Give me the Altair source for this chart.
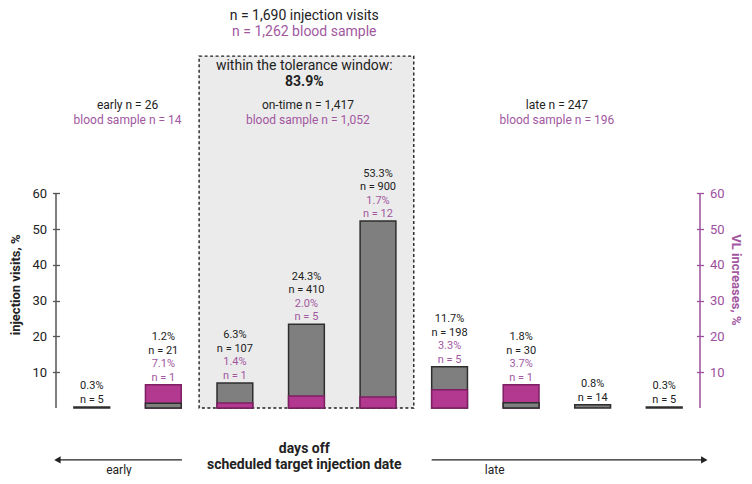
import json
import altair as alt
import pandas as pd

# ---------------- data ----------------
categories = ["< -14", "-14 to -8", "-7 to -1", "0", "1to7",
              "8 to 14", "15 to 28", "29 to 56", "> 56"]
visits_pct_label = ["0.3%", "1.2%", "6.3%", "24.3%", "53.3%", "11.7%", "1.8%", "0.8%", "0.3%"]
visits_n = [5, 21, 107, 410, 900, 198, 30, 14, 5]
vl_pct_label = [None, "7.1%", "1.4%", "2.0%", "1.7%", "3.3%", "3.7%", None, None]
vl_n = [None, 1, 1, 5, 12, 5, 1, None, None]
# bar heights as drawn in the picture (%)
visits_bar = [0.3, 1.3, 7.0, 23.4, 52.2, 11.5, 1.5, 0.9, 0.3]
vl_bar = [None, 6.5, 1.4, 3.35, 3.1, 5.1, 6.5, None, None]
tick_values = [10, 20, 30, 40, 50, 60]
on_time_cats = ["-7 to -1", "0", "1to7"]

# ---------------- style ----------------
FONT = "Roboto"
BLACK = "#222222"
PURPLE = "#a2579f"
AXIS_PURPLE = "#9c4f9c"
GRAY = "#7f7f7f"
GRAY_STROKE = "#2e2e2e"
MAGENTA = "#b3388f"
MAG_STROKE = "#7e1f64"

W, H = 644, 400
K = 3.58                      # pixels per percent unit
YMAX = H / K
XS = alt.Scale(domain=[0, len(categories)], nice=False, zero=False)
YS = alt.Scale(domain=[0, YMAX], nice=False, zero=False)

# ---------------- tables ----------------
bar_rows = []
for i, c in enumerate(categories):
    bar_rows.append(dict(cat=c, x0=i + 0.25, x1=i + 0.75, v=visits_bar[i], base=0, series="visits"))
    if vl_bar[i] is not None:
        bar_rows.append(dict(cat=c, x0=i + 0.25, x1=i + 0.75, v=vl_bar[i], base=0, series="vl"))
bars_df = pd.DataFrame(bar_rows).sort_values("v", ascending=False).reset_index(drop=True)

OFF, STEP = 7.0 / K, 13.5 / K
lab_rows = []
for i, c in enumerate(categories):
    top = max(visits_bar[i], vl_bar[i] or 0)
    lines = []
    if vl_bar[i] is not None:
        lines += [(f"n = {vl_n[i]}", PURPLE), (vl_pct_label[i], PURPLE)]
    lines += [(f"n = {visits_n[i]:,}", BLACK), (visits_pct_label[i], BLACK)]
    for k, (t, col) in enumerate(lines):
        lab_rows.append(dict(x=i + 0.5, y=top + OFF + k * STEP, text=t, col=col))
labels_df = pd.DataFrame(lab_rows)

i0 = categories.index(on_time_cats[0])
i1 = categories.index(on_time_cats[-1]) + 1
box_df = pd.DataFrame([dict(x0=i0, x1=i1, y0=0, y1=98.3)])

ann_df = pd.DataFrame([
    dict(x=3.47, y=109.6, text="n = 1,690 injection visits", col=BLACK, size=14, w="normal"),
    dict(x=3.47, y=105.1, text="n = 1,262 blood sample", col=PURPLE, size=14, w="normal"),
    dict(x=3.47, y=95.5, text="within the tolerance window:", col=BLACK, size=14, w="normal"),
    dict(x=3.47, y=91.1, text="83.9%", col=BLACK, size=14, w="bold"),
    dict(x=1.0, y=84.6, text="early n = 26", col=BLACK, size=12, w="normal"),
    dict(x=1.0, y=80.4, text="blood sample n = 14", col=PURPLE, size=12, w="normal"),
    dict(x=3.52, y=84.6, text="on-time n = 1,417", col=BLACK, size=12, w="normal"),
    dict(x=3.52, y=80.4, text="blood sample n = 1,052", col=PURPLE, size=12, w="normal"),
    dict(x=7.0, y=84.6, text="late n = 247", col=BLACK, size=12, w="normal"),
    dict(x=7.0, y=80.4, text="blood sample n = 196", col=PURPLE, size=12, w="normal"),
    dict(x=3.47, y=-11.5, text="days off", col=BLACK, size=14, w="bold"),
    dict(x=3.47, y=-15.9, text="scheduled target injection date", col=BLACK, size=14, w="bold"),
    dict(x=0.88, y=-17.3, text="early", col=BLACK, size=12, w="normal"),
    dict(x=6.13, y=-17.3, text="late", col=BLACK, size=12, w="normal"),
])

arrow_df = pd.DataFrame([
    dict(x0=0.02, x1=1.76, y=-14.5, tip=0.02, shape="triangle-left"),
    dict(x0=5.25, x1=9.06, y=-14.5, tip=9.06, shape="triangle-right"),
])

axis_df = pd.DataFrame([dict(xl=0, xr=len(categories), y0=0, y1=max(tick_values))])

# ---------------- layers ----------------
label_expr = json.dumps(categories) + "[floor(datum.value)]"
X_AXIS = alt.Axis(values=[i + 0.5 for i in range(len(categories))], labelExpr=label_expr,
                  ticks=False, tickSize=0, domain=True, domainColor=GRAY_STROKE, domainWidth=1.5,
                  labelFont=FONT, labelFontSize=12, labelColor=BLACK, labelPadding=12,
                  grid=False, title=None, labelFlush=False)

box = alt.Chart(box_df).mark_rect(fill="#ebebeb", stroke=BLACK, strokeWidth=1.4,
                                  strokeDash=[3, 2.5]).encode(
    x=alt.X("x0:Q", scale=XS, axis=None), x2="x1:Q",
    y=alt.Y("y0:Q", scale=YS, axis=None), y2="y1:Q")

bars = alt.Chart(bars_df).mark_rect(strokeWidth=1.5).encode(
    x=alt.X("x0:Q", scale=XS, axis=X_AXIS), x2="x1:Q",
    y=alt.Y("v:Q", scale=YS, axis=None), y2="base:Q",
    fill=alt.Fill("series:N", scale=alt.Scale(domain=["visits", "vl"], range=[GRAY, MAGENTA]), legend=None),
    stroke=alt.Stroke("series:N", scale=alt.Scale(domain=["visits", "vl"], range=[GRAY_STROKE, MAG_STROKE]), legend=None),
    order=alt.Order("v:Q", sort="descending"))

left_axis = alt.Chart(axis_df).mark_rule(color="#555555", strokeWidth=1.5).encode(
    x=alt.X("xl:Q", scale=XS, axis=None),
    y=alt.Y("y0:Q", scale=YS, axis=alt.Axis(
        orient="left", values=tick_values, domain=False, grid=False, title=None,
        tickSize=7, offset=-3.5, tickColor="#555555", tickWidth=1.3,
        labelFont=FONT, labelFontSize=13, labelColor=BLACK, labelPadding=6)),
    y2="y1:Q")

right_axis = alt.Chart(axis_df).mark_rule(color=AXIS_PURPLE, strokeWidth=1.5).encode(
    x=alt.X("xr:Q", scale=XS, axis=None),
    y=alt.Y("y0:Q", scale=YS, axis=alt.Axis(
        orient="right", values=tick_values, domain=False, grid=False, title=None,
        tickSize=7, offset=-3.5, tickColor=AXIS_PURPLE, tickWidth=1.3,
        labelFont=FONT, labelFontSize=13, labelColor=AXIS_PURPLE, labelPadding=6)),
    y2="y1:Q")

bar_labels = alt.Chart(labels_df).mark_text(font=FONT, fontSize=11, baseline="middle").encode(
    x=alt.X("x:Q", scale=XS, axis=None),
    y=alt.Y("y:Q", scale=YS, axis=None),
    text="text:N", color=alt.Color("col:N", scale=None))

def ann_layer(weight):
    return alt.Chart(ann_df).transform_filter(alt.datum.w == weight).mark_text(
        font=FONT, fontWeight=weight, baseline="middle").encode(
        x=alt.X("x:Q", scale=XS, axis=None),
        y=alt.Y("y:Q", scale=YS, axis=None),
        text="text:N", color=alt.Color("col:N", scale=None),
        size=alt.Size("size:Q", scale=None))

arrows = alt.Chart(arrow_df).mark_rule(color=BLACK, strokeWidth=1.3).encode(
    x=alt.X("x0:Q", scale=XS, axis=None), x2="x1:Q",
    y=alt.Y("y:Q", scale=YS, axis=None))
heads = alt.Chart(arrow_df).mark_point(filled=True, color=BLACK, size=55, opacity=1).encode(
    x=alt.X("tip:Q", scale=XS, axis=None),
    y=alt.Y("y:Q", scale=YS, axis=None),
    shape=alt.Shape("shape:N", scale=None))

titles_df = pd.DataFrame([
    dict(x=-0.56, y=34.4, text="injection visits, %", col=BLACK, ang=270),
    dict(x=9.5, y=35.8, text="VL increases, %", col=PURPLE, ang=90),
])
left_title = alt.Chart(titles_df).transform_filter(alt.datum.ang == 270).mark_text(
    font=FONT, fontWeight="bold", fontSize=13, angle=270, baseline="middle").encode(
    x=alt.X("x:Q", scale=XS, axis=None), y=alt.Y("y:Q", scale=YS, axis=None),
    text="text:N", color=alt.Color("col:N", scale=None))
right_title = alt.Chart(titles_df).transform_filter(alt.datum.ang == 90).mark_text(
    font=FONT, fontWeight="bold", fontSize=13, angle=90, baseline="middle").encode(
    x=alt.X("x:Q", scale=XS, axis=None), y=alt.Y("y:Q", scale=YS, axis=None),
    text="text:N", color=alt.Color("col:N", scale=None))

chart = alt.layer(
    box, bars, left_axis, right_axis, bar_labels,
    ann_layer("normal"), ann_layer("bold"), arrows, heads, left_title, right_title
).resolve_scale(y="independent").properties(
    width=W, height=H,
    padding={"left": 48, "top": 0, "right": 44, "bottom": 68},
    autosize=alt.AutoSizeParams(type="none"),
).configure_view(stroke=None)

chart.save("out.html", embed_options={"renderer": "svg", "actions": False})
